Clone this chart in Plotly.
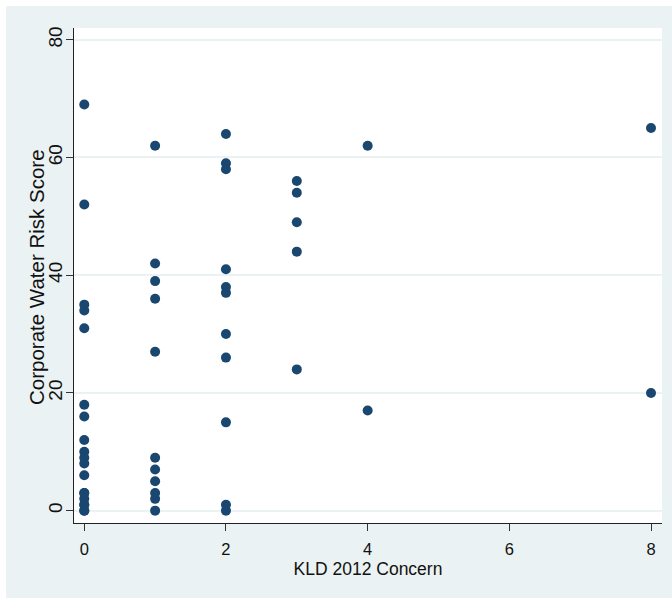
import plotly.graph_objects as go

# KLD 2012 Concern (x) and Corporate Water Risk Score (y)
kld_concern = [0]*19 + [1]*11 + [2]*11 + [3]*5 + [4]*2 + [8]*2
water_risk = (
    [69, 52, 35, 34, 31, 18, 16, 12, 10, 9, 8, 6, 3, 2, 1, 0, 3, 1, 0]
    + [62, 42, 39, 36, 27, 9, 7, 5, 3, 2, 0]
    + [64, 59, 58, 41, 38, 37, 30, 26, 15, 1, 0]
    + [56, 54, 49, 44, 24]
    + [62, 17]
    + [65, 20]
)
x_ticks = [0, 2, 4, 6, 8]
y_ticks = [0, 20, 40, 60, 80]

W, H = 672, 598
L, R, T, B = 74, 10, 28, 75
pw, ph = W - L - R, H - T - B
bg = "#EAF2F3"
navy = "#1A476F"

fig = go.Figure()
fig.add_trace(go.Scatter(
    x=kld_concern, y=water_risk, mode="markers",
    marker=dict(color=navy, size=10, line=dict(width=0)),
    showlegend=False, hoverinfo="x+y",
))

fam = "Liberation Sans, Arial, sans-serif"
col = "#111111"

fig.update_layout(
    width=W, height=H,
    margin=dict(l=L, r=R, t=T, b=B, pad=0),
    paper_bgcolor=bg, plot_bgcolor="white",
    font=dict(family=fam, size=16, color=col),
    xaxis=dict(
        range=[-0.145, 8.155], tickvals=x_ticks, ticks="outside", ticklen=7,
        tickcolor="#333333", showline=True, linecolor="#222222", linewidth=1,
        showgrid=False, zeroline=False, ticklabelstandoff=4,
        title=dict(text="KLD 2012 Concern", standoff=5,
                   font=dict(family=fam, size=17.5, color=col)),
        tickfont=dict(family=fam, size=16.5, color=col),
    ),
    yaxis=dict(
        range=[-2.1, 82.0], tickvals=y_ticks, ticks="outside", ticklen=7,
        tickcolor="#333333", showline=True, linecolor="#222222", linewidth=1,
        showgrid=True, gridcolor=bg, gridwidth=1.5, zeroline=False,
        tickangle=-90, ticklabelstandoff=-4,
        tickfont=dict(family=fam, size=19, color=col),
    ),
    annotations=[
        dict(text="Corporate Water Risk Score", textangle=-90,
             xref="paper", yref="paper", x=(37 - L) / pw, y=0.497,
             xanchor="center", yanchor="middle", showarrow=False,
             font=dict(family=fam, size=20.5, color=col)),
    ],
    shapes=[
        # white outer border strips (top and left)
        dict(type="rect", xref="paper", yref="paper", layer="below",
             x0=-0.3, x1=1.1, y0=(H - B - 6) / ph, y1=1.2,
             fillcolor="white", line=dict(width=0)),
        dict(type="rect", xref="paper", yref="paper", layer="below",
             x0=-0.3, x1=(6 - L) / pw, y0=-0.3, y1=1.2,
             fillcolor="white", line=dict(width=0)),
    ],
)

fig.write_html("out.html")
